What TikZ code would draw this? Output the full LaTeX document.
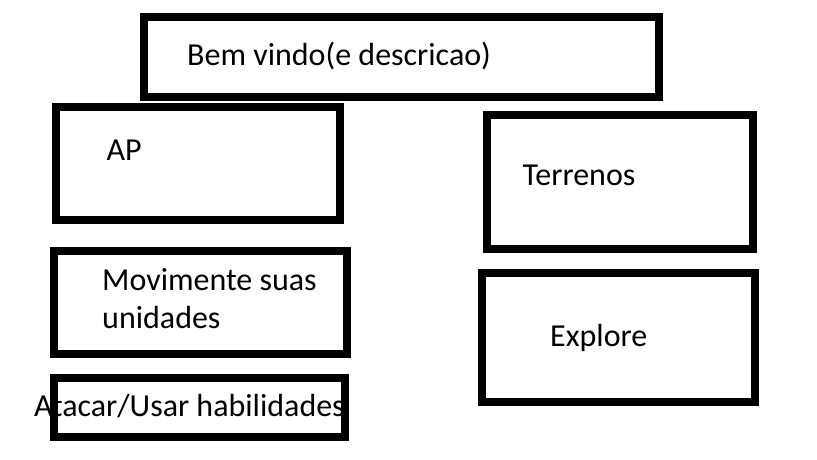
\documentclass[tikz,border=0pt]{standalone}
\usepackage{fontspec}
\setmainfont{Carlito}
\usepackage{tikz}

\begin{document}
\begin{tikzpicture}[x=1pt, y=-1pt]
                \useasboundingbox (0,0) rectangle (817,459);
                \begin{scope}[every node/.style={draw, line width=8pt, rectangle, inner sep=0pt}]
                        \node[minimum width=515pt, minimum height=80pt] (Welcome) at (401.5,57) {};
                        \node[minimum width=284pt, minimum height=113pt] (AP) at (198,163.5) {};
                        \node[minimum width=293pt, minimum height=103pt] (Move) at (200.5,302.5) {};
                        \node[minimum width=291pt, minimum height=59pt] (Attack) at (199.5,407.5) {};
                        \node[minimum width=266pt, minimum height=134pt] (Terrain) at (620,182) {};
                        \node[minimum width=273pt, minimum height=129pt] (Explore) at (618.5,337.5) {};
                \end{scope}
                \begin{scope}[every node/.style={anchor=base west, inner sep=0pt, align=left, font=\fontsize{32}{38.3}\selectfont}]
                        \node (WelcomeText) at (187,65) {Bem vindo(e descricao)};
                        \node (APText) at (106.5,160) {AP};
                        \node (MoveText) at (102,328.5) {Movimente suas\\unidades};
                        \node (AttackText) at (34,416.5) {Atacar/Usar habilidades};
                        \node (TerrainText) at (522.5,185.5) {Terrenos};
                        \node (ExploreText) at (550,346.5) {Explore};
                \end{scope}
        \end{tikzpicture}
\end{document}
